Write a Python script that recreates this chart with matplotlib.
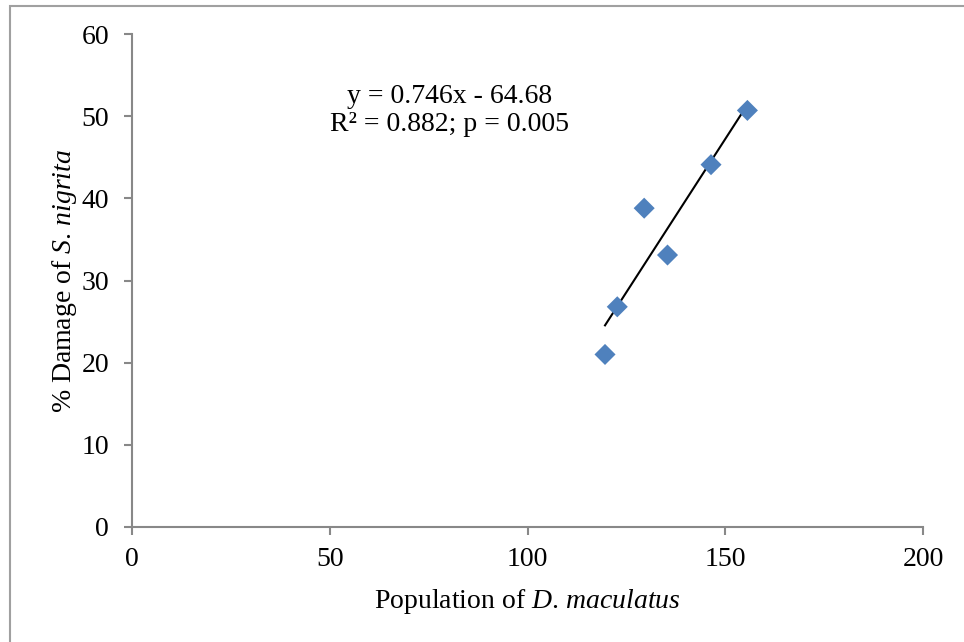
import matplotlib.pyplot as plt
import numpy as np
from matplotlib.patches import Rectangle

population = [119.6, 122.7, 129.5, 135.4, 146.4, 155.6]
damage = [21.0, 26.8, 38.8, 33.1, 44.1, 50.7]
slope, intercept = 0.746, -64.68

plt.rcParams['font.family'] = ['Liberation Serif', 'DejaVu Serif']
plt.rcParams['mathtext.fontset'] = 'custom'
plt.rcParams['mathtext.rm'] = 'Liberation Serif'
plt.rcParams['mathtext.it'] = 'Liberation Serif:italic'

fig = plt.figure(figsize=(9.64, 6.42), dpi=100)
W, H = 964, 642
ax = fig.add_axes([132 / W, 1 - 527 / H, (923 - 132) / W, (527 - 34) / H])

# outer frame
fig.patches.append(Rectangle((10 / W, -0.01), 1.1, 1 - 6 / H + 0.01,
                             transform=fig.transFigure, fill=False,
                             edgecolor='#a0a0a0', linewidth=1.5))

ax.scatter(population, damage, marker='D', s=115, color='#4F81BD',
           edgecolors='none', zorder=3)
xl = np.array([min(population), max(population)])
ax.plot(xl, slope * xl + intercept, color='black', linewidth=1.5, zorder=2)

ax.set_xlim(0, 200)
ax.set_ylim(0, 60)
ax.set_xticks([0, 50, 100, 150, 200])
ax.set_yticks([0, 10, 20, 30, 40, 50, 60])
for s in ['top', 'right']:
    ax.spines[s].set_visible(False)
for s in ['left', 'bottom']:
    ax.spines[s].set_color('#888888')
    ax.spines[s].set_linewidth(1.5)
ax.tick_params(direction='out', length=5.5, width=1.5, color='#888888',
               labelsize=20)
ax.tick_params(axis='y', pad=11)
ax.tick_params(axis='x', pad=9)

ax.set_xlabel('Population of $\\mathit{D.\\,maculatus}$', fontsize=20, labelpad=11)
ax.set_ylabel('% Damage of $\\mathit{S.\\,nigrita}$', fontsize=20, labelpad=1.5)

ax.text(0.402, 0.845, 'y = 0.746x - 64.68\nR² = 0.882; p = 0.005',
        transform=ax.transAxes, ha='center', va='center', fontsize=20,
        linespacing=1.12)

fig.savefig('out.png', dpi=100)
